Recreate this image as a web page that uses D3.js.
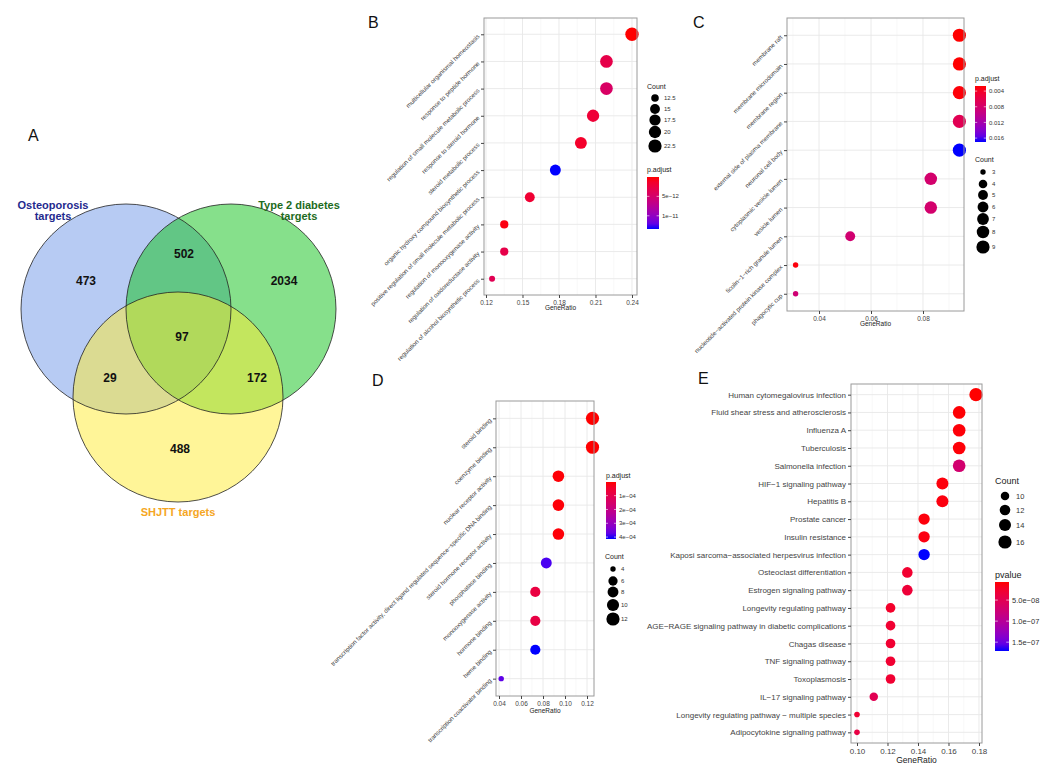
<!DOCTYPE html>
<html><head><meta charset="utf-8">
<script src="https://cdn.jsdelivr.net/npm/d3@7"></script>
<style>body{margin:0;background:#fff} svg{font-family:"Liberation Sans",Arial,sans-serif}</style>
</head><body><svg id="c" width="1045" height="767"></svg>
<script>
// ---------- DATA ----------
const vennSets = ["Osteoporosis\ntargets", "Type 2 diabetes\ntargets", "SHJTT targets"];
const vennRegions = ["O", "T", "S", "OT", "OS", "TS", "OTS"];
const vennCounts = [473, 2034, 488, 502, 29, 172, 97];

const bTerms = ["multicellular organismal homeostasis","response to peptide hormone","regulation of small molecule metabolic process","response to steroid hormone","steroid metabolic process","organic hydroxy compound biosynthetic process","positive regulation of small molecule metabolic process","regulation of monooxygenase activity","regulation of oxidoreductase activity","regulation of alcohol biosynthetic process"];
const bRatio = [0.240,0.219,0.219,0.208,0.198,0.177,0.156,0.135,0.135,0.125];
const bCount = [23,21,21,20,19,17,15,13,13,12];
const bPadj = [2e-14,3.0e-12,4.5e-12,2.0e-12,1.4e-12,1.34e-11,1.8e-12,4e-13,3.0e-12,3.6e-12];
const bXTicks = [0.12,0.15,0.18,0.21,0.24];
const bSizeTicks = [12.5,15,17.5,20,22.5];
const bColTicks = [5e-12,1e-11];
const bColLabels = ["5e\u221212","1e\u221211"];

const cTerms = ["membrane raft","membrane microdomain","membrane region","external side of plasma membrane","neuronal cell body","cytoplasmic vesicle lumen","vesicle lumen","ficolin\u22121\u2212rich granule lumen","nucleotide\u2212activated protein kinase complex","phagocytic cup"];
const cRatio = [0.094,0.094,0.094,0.094,0.094,0.083,0.083,0.052,0.031,0.031];
const cCount = [9,9,9,9,9,8,8,5,3,3];
const cPadj = [0.0027,0.0027,0.0029,0.0065,0.017,0.0081,0.0081,0.0083,0.0030,0.0085];
const cXTicks = [0.04,0.06,0.08];
const cSizeTicks = [3,4,5,6,7,8,9];
const cColTicks = [0.004,0.008,0.012,0.016];
const cColLabels = ["0.004","0.008","0.012","0.016"];

const dTerms = ["steroid binding","coenzyme binding","nuclear receptor activity","transcription factor activity, direct ligand regulated sequence\u2212specific DNA binding","steroid hormone receptor activity","phosphatase binding","monooxygenase activity","hormone binding","heme binding","transcription coactivator binding"];
const dRatio = [0.125,0.125,0.094,0.094,0.094,0.083,0.073,0.073,0.073,0.042];
const dCount = [12,12,9,9,9,8,7,7,7,4];
const dPadj = [1e-6,2e-6,5e-6,6e-6,6e-6,3.9e-4,8e-5,8.5e-5,4.14e-4,3.75e-4];
const dXTicks = [0.04,0.06,0.08,0.10,0.12];
const dSizeTicks = [4,6,8,10,12];
const dColTicks = [1e-4,2e-4,3e-4,4e-4];
const dColLabels = ["1e\u221204","2e\u221204","3e\u221204","4e\u221204"];

const eTerms = ["Human cytomegalovirus infection","Fluid shear stress and atherosclerosis","Influenza A","Tuberculosis","Salmonella infection","HIF\u22121 signaling pathway","Hepatitis B","Prostate cancer","Insulin resistance","Kaposi sarcoma\u2212associated herpesvirus infection","Osteoclast differentiation","Estrogen signaling pathway","Longevity regulating pathway","AGE\u2212RAGE signaling pathway in diabetic complications","Chagas disease","TNF signaling pathway","Toxoplasmosis","IL\u221217 signaling pathway","Longevity regulating pathway \u2212 multiple species","Adipocytokine signaling pathway"];
const eRatio = [0.178,0.167,0.167,0.167,0.167,0.156,0.156,0.144,0.144,0.144,0.133,0.133,0.122,0.122,0.122,0.122,0.122,0.111,0.100,0.100];
const eCount = [16,15,15,15,15,14,14,13,13,13,12,12,11,11,11,11,11,10,9,9];
const ePval = [7e-9,8e-9,9e-9,9e-9,7e-8,1e-8,1.1e-8,1e-8,1.2e-8,1.71e-7,2.7e-8,3.2e-8,2.4e-8,2.8e-8,2.8e-8,2.8e-8,2.8e-8,5e-8,2.8e-8,4e-8];
const eXTicks = [0.10,0.12,0.14,0.16,0.18];
const eSizeTicks = [10,12,14,16];
const eColTicks = [5e-8,1e-7,1.5e-7];
const eColLabels = ["5.0e\u221208","1.0e\u221207","1.5e\u221207"];

// ---------- DRAW ----------
const svg = d3.select("#c");
svg.append("rect").attr("width",1045).attr("height",767).attr("fill","#fff");

// panel letters
[["A",28,141],["B",368,28],["C",693,28],["D",372,386],["E",698,384]].forEach(([t,x,y])=>{
  svg.append("text").attr("x",x).attr("y",y).attr("font-size",16).attr("fill","#111").text(t);
});

// ---------- Venn ----------
const vennGeom = {O:[126,309], T:[231,309], S:[178,397], r:105};
const vennFill = {O:"rgb(112,152,232)", T:"rgb(14,194,24)", S:"rgb(255,236,50)"};
const vg = svg.append("g");
["O","T","S"].forEach(k=>{
  vg.append("circle").attr("cx",vennGeom[k][0]).attr("cy",vennGeom[k][1]).attr("r",vennGeom.r)
    .attr("fill",vennFill[k]).attr("fill-opacity",0.5);
});
["O","T","S"].forEach(k=>{
  vg.append("circle").attr("cx",vennGeom[k][0]).attr("cy",vennGeom[k][1]).attr("r",vennGeom.r)
    .attr("fill","none").attr("stroke","#222").attr("stroke-width",0.8);
});
const vennLabelPos = {O:[86,285],T:[284,285],S:[180,453],OT:[184,258],OS:[110,382],TS:[257,382],OTS:[182,341]};
vennRegions.forEach((r,i)=>{
  vg.append("text").attr("x",vennLabelPos[r][0]).attr("y",vennLabelPos[r][1]).attr("text-anchor","middle")
    .attr("font-size",12).attr("font-weight","bold").attr("fill","#111").text(vennCounts[i]);
});
const vennTitlePos = [[53,209,"#1f2a8e"],[299,209,"#1d6b1d"],[178,516,"#f5a623"]];
vennSets.forEach((s,i)=>{
  const lines = s.split("\n");
  const t = vg.append("text").attr("text-anchor","middle").attr("font-size",11).attr("font-weight","bold")
    .attr("fill",vennTitlePos[i][2]);
  lines.forEach((l,j)=>t.append("tspan").attr("x",vennTitlePos[i][0]).attr("y",vennTitlePos[i][1]+j*11).text(l));
});

// ---------- Dot plot panels ----------
function dotPanel(cfg){
  const g = svg.append("g");
  const x = d3.scaleLinear().domain(cfg.xdom).range([cfg.x0,cfg.x1]);
  const y = d3.scalePoint().domain(cfg.terms).range([cfg.y0,cfg.y1]).padding(0.6);
  const cext = d3.extent(cfg.pv);
  const col = d3.scaleLinear().domain(cext).range(["red","blue"]).interpolate(d3.interpolateLab);
  const sext = d3.extent(cfg.count);
  const tN = d3.scaleLinear().domain(sext).range([0,1]);
  const rS = d3.scaleSqrt().domain([0,1]).range([cfg.rmin,cfg.rmax]);
  const rad = v=>rS(Math.max(0,tN(v)));

  // grid
  const minors = [];
  for(let i=0;i<cfg.xticks.length-1;i++) minors.push((cfg.xticks[i]+cfg.xticks[i+1])/2);
  const lo = cfg.xticks[0]-(cfg.xticks[1]-cfg.xticks[0])/2;
  if(lo>cfg.xdom[0]) minors.push(lo);
  const hi = cfg.xticks[cfg.xticks.length-1]+(cfg.xticks[1]-cfg.xticks[0])/2;
  if(hi<cfg.xdom[1]) minors.push(hi);
  g.selectAll(".mn").data(minors).join("line").attr("x1",d=>x(d)).attr("x2",d=>x(d))
    .attr("y1",cfg.y0).attr("y2",cfg.y1).attr("stroke","#f3f3f3").attr("stroke-width",0.6);
  g.selectAll(".mj").data(cfg.xticks).join("line").attr("x1",d=>x(d)).attr("x2",d=>x(d))
    .attr("y1",cfg.y0).attr("y2",cfg.y1).attr("stroke","#e8e8e8").attr("stroke-width",0.9);
  g.selectAll(".hy").data(cfg.terms).join("line").attr("x1",cfg.x0).attr("x2",cfg.x1)
    .attr("y1",d=>y(d)).attr("y2",d=>y(d)).attr("stroke","#e8e8e8").attr("stroke-width",0.9);

  // points
  const idx = d3.range(cfg.terms.length);
  g.selectAll(".pt").data(idx).join("circle")
    .attr("cx",i=>x(cfg.ratio[i])).attr("cy",i=>y(cfg.terms[i])).attr("r",i=>rad(cfg.count[i]))
    .attr("fill",i=>col(cfg.pv[i]));

  // border
  g.append("rect").attr("x",cfg.x0).attr("y",cfg.y0).attr("width",cfg.x1-cfg.x0).attr("height",cfg.y1-cfg.y0)
    .attr("fill","none").attr("stroke","#9a9a9a").attr("stroke-width",1);

  // axes
  const ax = d3.axisBottom(x).tickValues(cfg.xticks).tickFormat(d3.format(cfg.xfmt)).tickSize(3).tickPadding(2);
  const axg = g.append("g").attr("transform",`translate(0,${cfg.y1})`).call(ax);
  axg.select(".domain").remove();
  axg.selectAll("line").attr("stroke","#444");
  axg.selectAll("text").attr("font-size",cfg.tickFont).attr("fill","#444").attr("font-family","Liberation Sans, Arial, sans-serif");

  const ay = d3.axisLeft(y).tickSize(3).tickPadding(2);
  const ayg = g.append("g").attr("transform",`translate(${cfg.x0},0)`).call(ay);
  ayg.select(".domain").remove();
  ayg.selectAll("line").attr("stroke","#444");
  ayg.selectAll("text").attr("font-size",cfg.labelFont).attr("fill","#444").attr("font-family","Liberation Sans, Arial, sans-serif");
  if(cfg.rot){
    ayg.selectAll("text").attr("x",0).attr("dy",0).attr("text-anchor","end")
      .attr("transform","translate(-4,2) rotate(-45)");
  }
  g.append("text").attr("x",(cfg.x0+cfg.x1)/2).attr("y",cfg.xTitleY).attr("text-anchor","middle")
    .attr("font-size",cfg.xTitleFont).attr("fill","#222").text("GeneRatio");

  // size legend
  const L = cfg.sizeLeg;
  g.append("text").attr("x",L.x).attr("y",L.titleY).attr("font-size",cfg.legTitleFont).attr("fill","#222").text("Count");
  cfg.sizeTicks.forEach((v,i)=>{
    g.append("circle").attr("cx",L.dotX).attr("cy",L.ys[i]).attr("r",rad(v)).attr("fill","#000");
    g.append("text").attr("x",L.labX).attr("y",L.ys[i]).attr("dy","0.35em").attr("font-size",cfg.legFont).attr("fill","#333").text(v);
  });

  // colour legend
  const C = cfg.colLeg;
  g.append("text").attr("x",C.x).attr("y",C.titleY).attr("font-size",cfg.legTitleFont).attr("fill","#222").text(C.title);
  const gid = "grad"+cfg.id;
  const grad = svg.append("defs").append("linearGradient").attr("id",gid).attr("x1",0).attr("x2",0).attr("y1",0).attr("y2",1);
  d3.range(11).forEach(k=>{
    grad.append("stop").attr("offset",k/10).attr("stop-color",col(cext[0]+(cext[1]-cext[0])*k/10));
  });
  g.append("rect").attr("x",C.x).attr("y",C.y0).attr("width",C.w).attr("height",C.y1-C.y0).attr("fill",`url(#${gid})`);
  const cy = d3.scaleLinear().domain(cext).range([C.y0,C.y1]);
  cfg.colTicks.forEach((v,i)=>{
    const yy = cy(v);
    g.append("line").attr("x1",C.x).attr("x2",C.x+C.w*0.2).attr("y1",yy).attr("y2",yy).attr("stroke","#fff").attr("stroke-width",0.6);
    g.append("line").attr("x1",C.x+C.w*0.8).attr("x2",C.x+C.w).attr("y1",yy).attr("y2",yy).attr("stroke","#fff").attr("stroke-width",0.6);
    g.append("text").attr("x",C.x+C.w+3).attr("y",yy).attr("dy","0.35em").attr("font-size",cfg.legFont).attr("fill","#333").text(cfg.colLabels[i]);
  });
}

dotPanel({id:"B",terms:bTerms,ratio:bRatio,count:bCount,pv:bPadj,
  x0:484,x1:637,y0:18,y1:295,xdom:[0.11836,0.24411],xticks:bXTicks,xfmt:".2f",
  rmin:3,rmax:6.7,rot:true,labelFont:6.2,tickFont:6.5,xTitleY:310,xTitleFont:6.5,
  legTitleFont:7,legFont:6,sizeTicks:bSizeTicks,colTicks:bColTicks,colLabels:bColLabels,
  sizeLeg:{x:647,titleY:89,dotX:655,labX:664,ys:[98,109,120,132,146]},
  colLeg:{x:647,titleY:172,title:"p.adjust",w:12,y0:177,y1:229}});

dotPanel({id:"C",terms:cTerms,ratio:cRatio,count:cCount,pv:cPadj,
  x0:787,x1:964,y0:18,y1:311,xdom:[0.02769,0.09577],xticks:cXTicks,xfmt:".2f",
  rmin:2.7,rmax:6.6,rot:true,labelFont:6.2,tickFont:6.5,xTitleY:326,xTitleFont:6.5,
  legTitleFont:7,legFont:6,sizeTicks:cSizeTicks,colTicks:cColTicks,colLabels:cColLabels,
  sizeLeg:{x:975,titleY:162,dotX:983,labX:992,ys:[172,184,195,207,219,232,247]},
  colLeg:{x:975,titleY:81,title:"p.adjust",w:11,y0:86,y1:142}});

dotPanel({id:"D",terms:dTerms,ratio:dRatio,count:dCount,pv:dPadj,
  x0:496,x1:594,y0:401,y1:696,xdom:[0.03727,0.12636],xticks:dXTicks,xfmt:".2f",
  rmin:2.7,rmax:6.6,rot:true,labelFont:6.2,tickFont:6.5,xTitleY:713,xTitleFont:6.5,
  legTitleFont:7,legFont:6,sizeTicks:dSizeTicks,colTicks:dColTicks,colLabels:dColLabels,
  sizeLeg:{x:605,titleY:559,dotX:613,labX:621,ys:[569,581,592,605,619]},
  colLeg:{x:606,titleY:478,title:"p.adjust",w:10,y0:482,y1:539}});

dotPanel({id:"E",terms:eTerms,ratio:eRatio,count:eCount,pv:ePval,
  x0:851,x1:982,y0:384,y1:743,xdom:[0.09607,0.18197],xticks:eXTicks,xfmt:".2f",
  rmin:2.8,rmax:6.6,rot:false,labelFont:8,tickFont:8,xTitleY:763,xTitleFont:8.5,
  legTitleFont:9,legFont:7.5,sizeTicks:eSizeTicks,colTicks:eColTicks,colLabels:eColLabels,
  sizeLeg:{x:995,titleY:484,dotX:1005,labX:1016,ys:[496,510,525,542]},
  colLeg:{x:995,titleY:578,title:"pvalue",w:14,y0:582,y1:651}});
</script></body></html>
